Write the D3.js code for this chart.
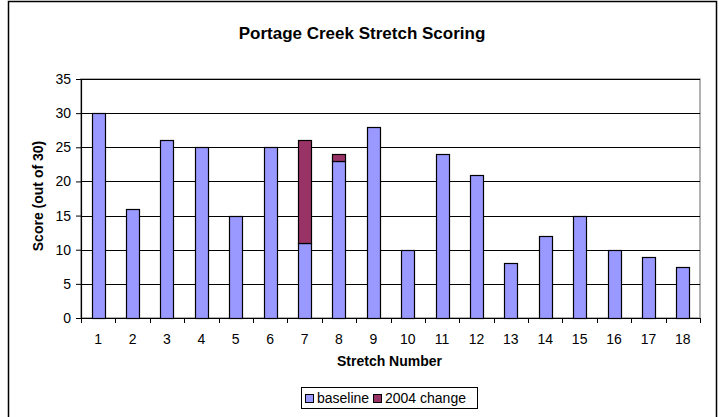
<!DOCTYPE html>
<html>
<head>
<meta charset="utf-8">
<script src="https://cdn.jsdelivr.net/npm/d3@7"></script>
<style>
  body { margin: 0; background: #fff; }
  svg { display: block; font-family: "Liberation Sans", Arial, sans-serif; }
</style>
</head>
<body>
<svg id="chart" width="719" height="417"></svg>
<script>
// Stretch scores, stacked: baseline plus the 2004 change on top.
const stretches = d3.range(1, 19).map(String);
const baseline = [30, 16, 26, 25, 15, 25, 11, 23, 28, 10, 24, 21, 8, 12, 15, 10, 9, 7.5];
const change2004 = [0, 0, 0, 0, 0, 0, 15, 1, 0, 0, 0, 0, 0, 0, 0, 0, 0, 0];
const yTicks = [0, 5, 10, 15, 20, 25, 30, 35];
const seriesNames = ["baseline", "2004 change"];
const seriesColors = ["#9999ff", "#993366"];

const svg = d3.select("#chart");
const margin = { top: 79, right: 19, bottom: 99, left: 81 };
const width = +svg.attr("width");
const height = +svg.attr("height");
const innerWidth = width - margin.left - margin.right;
const innerHeight = height - margin.top - margin.bottom;

// outer chart border (bottom edge falls outside the picture)
svg.append("path")
  .attr("d", `M8.5,${height + 2} V1.5 H716.5 V${height + 2}`)
  .attr("fill", "none")
  .attr("stroke", "#000")
  .attr("stroke-width", 1.5);

svg.append("text")
  .attr("x", 362)
  .attr("y", 39)
  .attr("text-anchor", "middle")
  .attr("font-size", 17)
  .attr("font-weight", "bold")
  .text("Portage Creek Stretch Scoring");

const x = d3.scaleBand().domain(stretches).range([0, innerWidth]);
const y = d3.scaleLinear().domain([0, 35]).range([innerHeight, 0]);

const g = svg.append("g").attr("transform", `translate(${margin.left},${margin.top})`);

// plot area frame
g.append("rect")
  .attr("x", 0).attr("y", 0)
  .attr("width", innerWidth).attr("height", innerHeight)
  .attr("fill", "#fff")
  .attr("stroke", "#999")
  .attr("stroke-width", 1.5);

// gridlines
g.selectAll(".grid")
  .data(yTicks.filter(d => d > 0))
  .join("line")
  .attr("x1", 0).attr("x2", innerWidth)
  .attr("y1", d => Math.round(y(d)) + 0.5).attr("y2", d => Math.round(y(d)) + 0.5)
  .attr("stroke", "#000");

const rows = stretches.map((s, i) => ({ stretch: s, baseline: baseline[i], change: change2004[i] }));
const stack = d3.stack().keys(["baseline", "change"])(rows);

const barW = 13;
g.selectAll(".series")
  .data(stack)
  .join("g")
  .attr("fill", (d, i) => seriesColors[i])
  .selectAll("rect")
  .data(d => d.filter(p => p[1] > p[0]))
  .join("rect")
  .attr("x", d => Math.round(x(d.data.stretch) + x.bandwidth() / 2 - barW / 2) + 0.5)
  .attr("y", d => Math.round(y(d[1])) + 0.5)
  .attr("width", barW)
  .attr("height", d => Math.round(y(d[0])) - Math.round(y(d[1])))
  .attr("stroke", "#000")
  .attr("stroke-width", 1.2);

// y axis
const yAxis = g.append("g")
  .call(d3.axisLeft(y).tickValues(yTicks).tickSize(5).tickPadding(5));
yAxis.select(".domain").attr("stroke", "#000").attr("stroke-width", 1.2).attr("d", `M0.5,0V${innerHeight}`);
yAxis.selectAll("text").attr("font-size", 14).attr("fill", "#000").attr("font-family", "Liberation Sans, Arial, sans-serif");

// x axis: ticks at category boundaries, labels at centres
const xAxis = g.append("g").attr("transform", `translate(0,${innerHeight})`);
xAxis.append("line")
  .attr("x1", 0).attr("x2", innerWidth)
  .attr("y1", 0.5).attr("y2", 0.5)
  .attr("stroke", "#000").attr("stroke-width", 1.2);
xAxis.selectAll(".xtick")
  .data(stretches.concat(["end"]))
  .join("line")
  .attr("x1", (d, i) => Math.round(i * x.step()) + 0.5)
  .attr("x2", (d, i) => Math.round(i * x.step()) + 0.5)
  .attr("y1", 0).attr("y2", 5)
  .attr("stroke", "#000");
xAxis.selectAll(".xlabel")
  .data(stretches)
  .join("text")
  .attr("x", d => x(d) + x.bandwidth() / 2)
  .attr("y", 26)
  .attr("text-anchor", "middle")
  .attr("font-size", 14)
  .text(d => d);

svg.append("text")
  .attr("x", margin.left + innerWidth / 2 - 1)
  .attr("y", 366)
  .attr("text-anchor", "middle")
  .attr("font-size", 14)
  .attr("font-weight", "bold")
  .text("Stretch Number");

svg.append("text")
  .attr("transform", `translate(43,196) rotate(-90)`)
  .attr("text-anchor", "middle")
  .attr("font-size", 14)
  .attr("font-weight", "bold")
  .text("Score (out of 30)");

// legend
const legend = svg.append("g").attr("transform", "translate(301,387)");
legend.append("rect")
  .attr("x", 0.5).attr("y", 0.5)
  .attr("width", 176).attr("height", 21)
  .attr("fill", "#fff").attr("stroke", "#000");
const legendX = [4, 72];
seriesNames.forEach((name, i) => {
  legend.append("rect")
    .attr("x", legendX[i] + 0.5).attr("y", 7.5)
    .attr("width", 8).attr("height", 8)
    .attr("fill", seriesColors[i]).attr("stroke", "#000");
  legend.append("text")
    .attr("x", legendX[i] + 12).attr("y", 16)
    .attr("font-size", 14)
    .text(name);
});
</script>
</body>
</html>
